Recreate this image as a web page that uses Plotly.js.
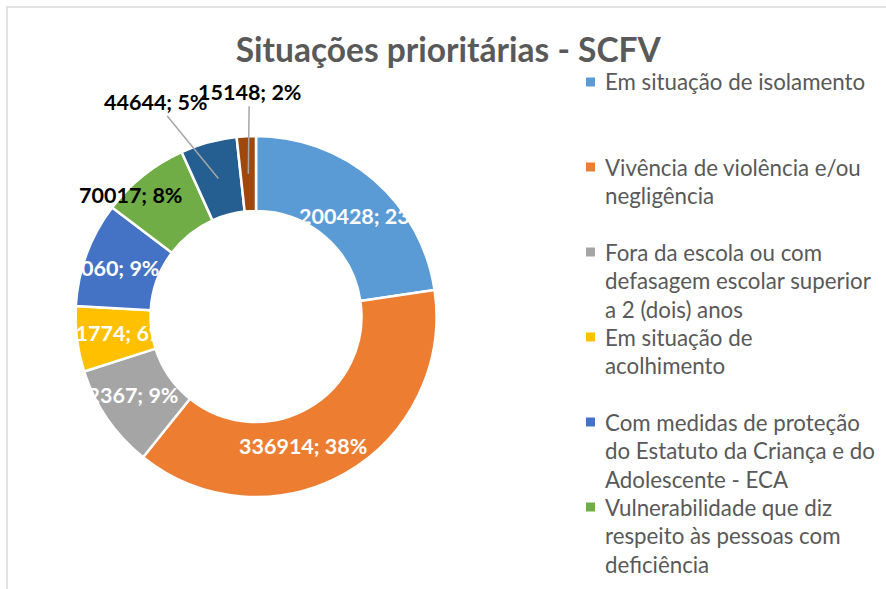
<!DOCTYPE html>
<html>
<head>
<meta charset="utf-8">
<script src="https://cdn.plot.ly/plotly-3.0.1.min.js"></script>
<style>html,body{margin:0;padding:0;background:#fff;}#chart{width:886px;height:589px;}</style>
</head>
<body>
<div id="chart"></div>
<script>
// ---- data ----
const categories = [
  "Em situação de isolamento",
  "Vivência de violência e/ou negligência",
  "Fora da escola ou com defasagem escolar superior a 2 (dois) anos",
  "Em situação de acolhimento",
  "Com medidas de proteção do Estatuto da Criança e do Adolescente - ECA",
  "Vulnerabilidade que diz respeito às pessoas com deficiência",
  "Trabalho infantil",
  "Em situação de rua"
];
const legendLines = [
  ["Em situação de isolamento"],
  ["Vivência de violência e/ou", "negligência"],
  ["Fora da escola ou com", "defasagem escolar superior", "a 2 (dois) anos"],
  ["Em situação de", "acolhimento"],
  ["Com medidas de proteção", "do Estatuto da Criança e do", "Adolescente - ECA"],
  ["Vulnerabilidade que diz", "respeito às pessoas com", "deficiência"],
  ["Trabalho infantil"],
  ["Em situação de rua"]
];
const values = [200428, 336914, 82367, 51774, 83060, 70017, 44644, 15148];
const colors = ["#5B9BD5", "#ED7D31", "#A5A5A5", "#FFC000", "#4472C4", "#70AD47", "#255E91", "#9E480E"];
const chartTitle = "Situações prioritárias - SCFV";

// ---- geometry (pixels) ----
const W = 886, H = 589;
const cx = 256, cy = 316.5, R = 180.5, rHole = 105.5;
const FONT = "Lato, 'Open Sans', sans-serif";
const px = x => x / W;
const py = y => 1 - y / H;

const total = values.reduce((a, b) => a + b, 0);
const pct = values.map(v => Math.round(v / total * 100));
const labelText = values.map((v, i) => v + "; " + pct[i] + "%");

// mid angles (clockwise from 12 o'clock)
let cum = 0;
const midAng = values.map(v => { const a = (cum + v / 2) / total * 2 * Math.PI; cum += v; return a; });
const rMid = (R + rHole) / 2;
const midPt = midAng.map(a => [cx + rMid * Math.sin(a), cy - rMid * Math.cos(a)]);

const annotations = [];
// inside labels (white)
const insideIdx = [0, 1, 2, 3, 4];
const insideNudge = [[14, 8], [-24, 5], [-12, -2], [0, -1], [-14, 1]];
insideIdx.forEach((i, k) => {
  annotations.push({
    x: px(midPt[i][0] + insideNudge[k][0]), y: py(midPt[i][1] + insideNudge[k][1]),
    xref: "paper", yref: "paper", showarrow: false,
    text: labelText[i], xanchor: "center", yanchor: "middle",
    font: {family: FONT, size: 21.5, color: "#ffffff", weight: 700}
  });
});
// outside labels (black) with leader lines
const outside = [
  {i: 5, ax: -36, ay: -10, line: false},
  {i: 6, ax: -63, ay: -77, line: true},
  {i: 7, ax: 1, ay: -82, line: true}
];
outside.forEach(o => {
  annotations.push({
    x: px(midPt[o.i][0]), y: py(midPt[o.i][1]),
    xref: "paper", yref: "paper", showarrow: true,
    ax: o.ax, ay: o.ay, arrowhead: 0, arrowwidth: 1.5, standoff: 0,
    arrowcolor: o.line ? "#A6A6A6" : "rgba(0,0,0,0)",
    text: labelText[o.i], xanchor: "center", yanchor: "middle",
    font: {family: FONT, size: 21.5, color: "#000000", weight: 700}
  });
});

// legend (drawn as text rows, clipped by the chart frame like the original)
const shapes = [];
const legTop = 82, legSlot = 85, legLine = 28.7;
legendLines.forEach((lines, i) => {
  const y0 = legTop + i * legSlot;
  if (y0 > H) return;
  shapes.push({type: "rect", xref: "paper", yref: "paper",
    x0: px(586), x1: px(595), y0: py(y0 - 4.5), y1: py(y0 + 4.5),
    fillcolor: colors[i], line: {width: 0}});
  lines.forEach((t, k) => {
    const y = y0 + k * legLine;
    if (y > H) return;
    annotations.push({x: px(603), y: py(y), xref: "paper", yref: "paper",
      showarrow: false, text: t, xanchor: "left", yanchor: "middle",
      font: {family: FONT, size: 22.3, color: "#595959"}});
  });
});
// chart frame
shapes.push({type: "rect", xref: "paper", yref: "paper",
  x0: px(7), x1: 1.2, y0: -0.2, y1: py(7), line: {color: "#D9D9D9", width: 1.5}, fillcolor: "rgba(0,0,0,0)", layer: "below"});

const trace = {
  type: "pie", hole: rHole / R, values: values, labels: categories,
  sort: false, direction: "clockwise", rotation: 0,
  marker: {colors: colors, line: {color: "#ffffff", width: 2.5}},
  textinfo: "none", hoverinfo: "label+value+percent",
  showlegend: false,
  domain: {x: [px(cx - R), px(cx + R)], y: [py(cy + R), py(cy - R)]}
};

const layout = {
  width: W, height: H,
  margin: {l: 0, r: 0, t: 0, b: 0},
  paper_bgcolor: "#ffffff",
  showlegend: false,
  title: {text: chartTitle, x: 0.506, xanchor: "center", y: py(50), yanchor: "middle",
    font: {family: FONT, size: 33.5, color: "#595959", weight: 700}},
  annotations: annotations,
  shapes: shapes
};

Plotly.newPlot("chart", [trace], layout, {displayModeBar: false, staticPlot: true});
</script>
</body>
</html>
